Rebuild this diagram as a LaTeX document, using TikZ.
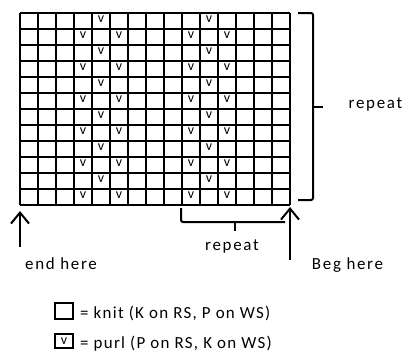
\documentclass[tikz,border=0pt]{standalone}
\usepackage{fontspec}
\setmainfont[LetterSpace=10]{Carlito}
\newfontfamily\keyfont[LetterSpace=7.5]{Carlito}
\usetikzlibrary{arrows.meta,positioning}

\begin{document}
\begin{tikzpicture}[x=1bp,y=-1bp]
\tikzstyle{gridline}=[line width=1.8bp]
\tikzstyle{purl}=[inner sep=0pt,font=\fontsize{14}{14}\selectfont]
\tikzstyle{txt}=[inner sep=0pt,anchor=base,font=\fontsize{17}{19}\selectfont]
\tikzstyle{keytxt}=[inner sep=0pt,anchor=base west,font=\keyfont\fontsize{17}{19}\selectfont]
\tikzstyle{bracket}=[line width=2bp,rounded corners=2bp]
\tikzstyle{arrowup}=[line width=2bp,-{Straight Barb[length=11bp,width=18bp]}]
\tikzstyle{legbox}=[rectangle,draw,line width=2.2bp,minimum width=18bp,minimum height=16bp,inner sep=0pt]
\useasboundingbox (0,0) rectangle (406,352);
% chart
\foreach \i in {0,...,15} \draw[gridline] ({20+18*\i},13) -- ({20+18*\i},205);
\foreach \j in {0,...,12} \draw[gridline] (20,{13+16*\j}) -- (290,{13+16*\j});
\foreach \r in {0,2,...,10} \foreach \c in {4,10}
  \node[purl] (v\r-\c) at ({29+18*\c},{19.5+16*\r}) {v};
\foreach \r in {1,3,...,11} \foreach \c in {3,5,9,11}
  \node[purl] (v\r-\c) at ({29+18*\c},{19.5+16*\r}) {v};
% repeats
\draw[bracket] (298,13) -- (313,13) -- (313,200) -- (298,200);
\draw[bracket] (313,107) -- (323,107);
\node[txt] (rowrep) at (375.5,108) {repeat};
\draw[bracket] (181,208) -- (181,222) -- (285,222);
\draw[bracket] (235,222) -- (235,231);
\node[txt] (colrep) at (232,250) {repeat};
% start and end
\coordinate (endtail) at (20,247);
\coordinate (endtip) at (20,211);
\draw[arrowup] (endtail) -- (endtip);
\node[txt] (endtxt) at (61,269) {end here};
\coordinate (begtail) at (290,260);
\coordinate (begtip) at (290,207);
\draw[arrowup] (begtail) -- (begtip);
\node[txt] (begtxt) at (347.5,269) {Beg here};
% key
\node[legbox] (knitbox) at (64,311) {};
\node[keytxt] (knittxt) at (80,318) {= knit (K on RS, P on WS)};
\node[legbox,minimum height=14bp] (purlbox) at (64,341) {\fontsize{14}{14}\selectfont v};
\node[keytxt] (purltxt) at (80,348) {= purl (P on RS, K on WS)};
\end{tikzpicture}
\end{document}
